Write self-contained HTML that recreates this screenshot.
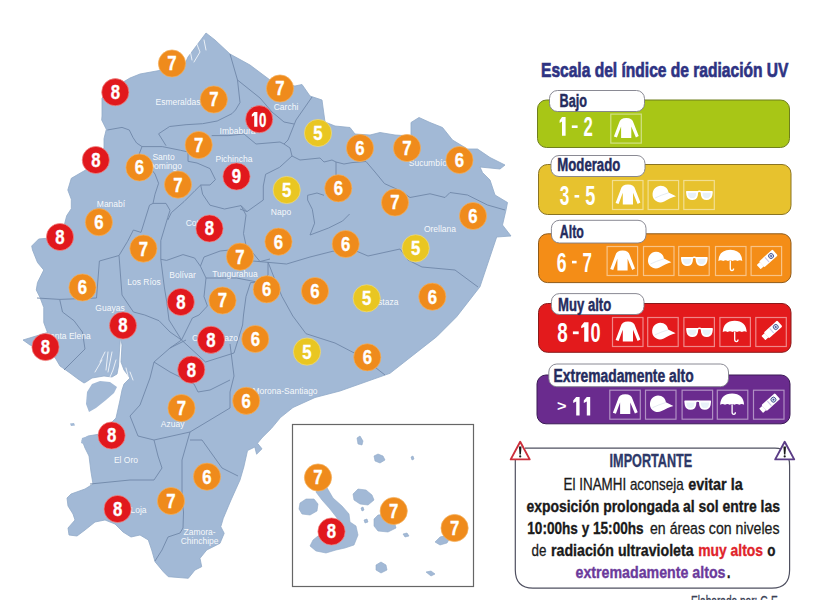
<!DOCTYPE html>
<html><head><meta charset="utf-8">
<style>
html,body{margin:0;padding:0;background:#fff;}
body{width:825px;height:600px;overflow:hidden;position:relative;font-family:"Liberation Sans",sans-serif;}
svg{position:absolute;left:0;top:0;}
svg text{font-family:"Liberation Sans",sans-serif;}
</style></head><body>
<svg width="825" height="600" viewBox="0 0 825 600">
<polygon points="206,33 215,40 230,54 250,65 270,80 282,84 295,86 302,84.5 310,96 322,100 325,122 335,126 350,127.5 355,134 370,135 380,132.5 395,135 411,136 411,122.5 419,117.5 430,122.5 442.5,127.5 452.5,140 467.5,149 477.5,149 490,157.5 505,165 500,169 480,167 482.5,172.5 490,180 495,195 507.5,202.5 506,210 502.5,225 511,236 496.7,237 480,286.7 456.7,316.7 436.7,336.7 390,373.3 340,391 315,397.5 293,407.5 280.4,417.6 271.3,428.6 262,437.8 257.5,443.3 262,448.8 256.6,454.2 254.8,447 247.5,450.6 243.8,467 240,480 231,500 223.3,518.3 220.8,526.7 224.2,533.3 220,543.3 206.7,550 200,558.3 201.7,566.7 195,570 188.3,578.3 168.3,576.7 163.3,571.7 155,561.7 151.7,550 148.3,540 140,535 131,537 123,532 115,524 105,520 95,522 85,530 77,536 69,535 68,528 75,520 73,514 68,506 67,498 71,494 85,489 93,484 91,472 89,456 85,448 82,440 88,436 100,434 116,418 120,400 122,390 124,384 130,378 124,370 121,362 122,345 120.5,337 119.5,350 118.5,366 117,374 112,377 104,376 98,377 92,378 86,382 84,383 78,379 70,373 60,366 55,357.5 45,350 30,345 23,340 47.5,332.5 43.75,322.5 43.75,307.5 40,297.5 36.25,290 37.5,282.5 43.75,270 37.5,262.5 32.5,250 31.7,246 38.7,239 50,238 64.3,225 66.7,215.7 71.3,208.7 71.3,199.3 67.8,190 71.3,178.3 85.3,170.2 95,162 104,148 104,138.7 106.3,129.3 101.7,120 102,116 102,98 110,90 120,84 130,78 140,74 184,66 188,57" fill="#a2b9d6" stroke="#90a9c8" stroke-width="0.8" stroke-linejoin="round"/>
<polygon points="87,392 92,384 100,381 110,382 117,387 114,393 106,400 96,408 89,412 86,404" fill="#a2b9d6"/>
<polygon points="70,423.5 74,423 75,425.5 71,426" fill="#a2b9d6"/>
<polygon points="82,438 88,436 92,440 86,445 81,443" fill="#a2b9d6"/>
<polygon points="86,446 92,444 95,448 89,450" fill="#a2b9d6"/>
<polyline points="100,362 105,352" fill="none" stroke="#fff" stroke-width="0.9" stroke-opacity="0.85" stroke-linecap="round"/>
<polyline points="95,372 102,360" fill="none" stroke="#fff" stroke-width="0.9" stroke-opacity="0.85" stroke-linecap="round"/>
<polyline points="108,352 106,370" fill="none" stroke="#fff" stroke-width="0.9" stroke-opacity="0.85" stroke-linecap="round"/>
<polyline points="112,352 110,362 108,372" fill="none" stroke="#fff" stroke-width="0.9" stroke-opacity="0.85" stroke-linecap="round"/>
<polyline points="116,360 113,370 110,377" fill="none" stroke="#fff" stroke-width="0.9" stroke-opacity="0.85" stroke-linecap="round"/>
<polyline points="126,368 128,376" fill="none" stroke="#fff" stroke-width="0.9" stroke-opacity="0.85" stroke-linecap="round"/>
<polyline points="130,372 133,380" fill="none" stroke="#fff" stroke-width="0.9" stroke-opacity="0.85" stroke-linecap="round"/>
<polyline points="196,42 200,52 194,62" fill="none" stroke="#fff" stroke-width="0.9" stroke-opacity="0.85" stroke-linecap="round"/>
<polyline points="204,40 206,50" fill="none" stroke="#fff" stroke-width="0.9" stroke-opacity="0.85" stroke-linecap="round"/>
<polyline points="190,50 192,60" fill="none" stroke="#fff" stroke-width="0.9" stroke-opacity="0.85" stroke-linecap="round"/>
<polyline points="230,54 237.5,80 240,102.5 235.5,110 231.9,113.7 217.2,121 202.6,123.7 186,124.7 169.6,126.5 158.6,133.8 166,145.7" fill="none" stroke="#6f87a8" stroke-width="0.9" stroke-linejoin="round"/>
<polyline points="107.3,130 122,127.4 129.3,130 133,137.5 136.6,143 142,146.6 162.3,146.6 180.6,150.3 188,152" fill="none" stroke="#6f87a8" stroke-width="0.9" stroke-linejoin="round"/>
<polyline points="237.5,80 260,98 272,112 284,122 294,124" fill="none" stroke="#6f87a8" stroke-width="0.9" stroke-linejoin="round"/>
<polyline points="312,97 296,120 288,140 284,144" fill="none" stroke="#6f87a8" stroke-width="0.9" stroke-linejoin="round"/>
<polyline points="211.7,135.6 228.2,135.6 244,134 256,144 280,142 284,144 290,148" fill="none" stroke="#6f87a8" stroke-width="0.9" stroke-linejoin="round"/>
<polyline points="290,148 292,156 279.6,167.3 265.6,174.3 263.3,186 263.3,200 247,211.6 240,209" fill="none" stroke="#6f87a8" stroke-width="0.9" stroke-linejoin="round"/>
<polyline points="292,156 300,160 320,158 324,162 332,160 336,162 344,164 352,162.6 366,161.5 375,172 384.5,183.6 400,190.6 410,197.5 430,193.75 445,197.5 450,192.5 467.5,195 487.5,205 505,210" fill="none" stroke="#6f87a8" stroke-width="0.9" stroke-linejoin="round"/>
<polyline points="336,162 336,176" fill="none" stroke="#6f87a8" stroke-width="0.9" stroke-linejoin="round"/>
<polyline points="324,195.3 317,193 307.6,195.3 307.6,200 312.3,209.3 314.6,223.2 310,235 328.6,228 342.6,221 349.6,214" fill="none" stroke="#6f87a8" stroke-width="0.9" stroke-linejoin="round"/>
<polyline points="188,152 188,161.3 197,163 210,168.6 215.4,179.6 210,185 200.7,185 195,190.6 184,201.6 171.4,212.6 167.8,220" fill="none" stroke="#6f87a8" stroke-width="0.9" stroke-linejoin="round"/>
<polyline points="200.7,185 202.6,194.2 210,205.2 224.5,209 241,205.6 247,211.6" fill="none" stroke="#6f87a8" stroke-width="0.9" stroke-linejoin="round"/>
<polyline points="142,146.6 138.5,155.8 148,165 155,174 158.6,183.3 155,194.2 153,203.4 149.5,205.2 141,232.4 133.4,230" fill="none" stroke="#6f87a8" stroke-width="0.9" stroke-linejoin="round"/>
<polyline points="153,203.4 166,203.4 170,210.3 167.8,217.3 160.8,240.6 160.8,259.3" fill="none" stroke="#6f87a8" stroke-width="0.9" stroke-linejoin="round"/>
<polyline points="160.8,259.3 166.6,260.4 183,254.6 194.6,258 200.4,266.2 204,257 220.2,251 229.6,250 250.5,250 260,261.6 270,259" fill="none" stroke="#6f87a8" stroke-width="0.9" stroke-linejoin="round"/>
<polyline points="241,205.6 246,215 243.5,233.6 246,245.3 250.5,250" fill="none" stroke="#6f87a8" stroke-width="0.9" stroke-linejoin="round"/>
<polyline points="206,278 236.6,278 260,282.6 268,275 268,262" fill="none" stroke="#6f87a8" stroke-width="0.9" stroke-linejoin="round"/>
<polyline points="200.4,266.2 206,278 204,296.6 207.4,306 199,315 192.4,318 181.5,340" fill="none" stroke="#6f87a8" stroke-width="0.9" stroke-linejoin="round"/>
<polyline points="160.8,259.3 164.3,287 166.6,301 169,320 181.5,340" fill="none" stroke="#6f87a8" stroke-width="0.9" stroke-linejoin="round"/>
<polyline points="260,282.6 250.5,282.6 246,296.6 243.5,315 242.6,325 234,353" fill="none" stroke="#6f87a8" stroke-width="0.9" stroke-linejoin="round"/>
<polyline points="247,260.5 286.6,264 310,257 333,251.2 356.6,251.2 368,256 400,249 408,260 422,267 455,270 478,287" fill="none" stroke="#6f87a8" stroke-width="0.9" stroke-linejoin="round"/>
<polyline points="268,262 275,280 282,296.5 292.8,316 306,333.7 335,343 362,357 385,375" fill="none" stroke="#6f87a8" stroke-width="0.9" stroke-linejoin="round"/>
<polyline points="181.5,340 170,348" fill="none" stroke="#6f87a8" stroke-width="0.9" stroke-linejoin="round"/>
<polyline points="181.5,340 205.5,362 234,353" fill="none" stroke="#6f87a8" stroke-width="0.9" stroke-linejoin="round"/>
<polyline points="37,298 59.7,299.4 96.5,298 99.4,261 119,255.5 127.6,241.3 133.4,230" fill="none" stroke="#6f87a8" stroke-width="0.9" stroke-linejoin="round"/>
<polyline points="59.7,299.4 62.5,312 74,320.7 82.4,332 85,349 68,366 64,370" fill="none" stroke="#6f87a8" stroke-width="0.9" stroke-linejoin="round"/>
<polyline points="119,255.5 122,295 133.4,312 144.8,315 159,320.7 170,332 181.5,340" fill="none" stroke="#6f87a8" stroke-width="0.9" stroke-linejoin="round"/>
<polyline points="186,340 170,348 154,362 150,378 140,405 130,416" fill="none" stroke="#6f87a8" stroke-width="0.9" stroke-linejoin="round"/>
<polyline points="154,362 170,372 194,384 198,392 210,390 230,380" fill="none" stroke="#6f87a8" stroke-width="0.9" stroke-linejoin="round"/>
<polyline points="230,344 234,376 230,392 230,408 210,420 190,432 154,440 138,436 130,416" fill="none" stroke="#6f87a8" stroke-width="0.9" stroke-linejoin="round"/>
<polyline points="154,440 158,456 162,468 154,480 130,480 90,484" fill="none" stroke="#6f87a8" stroke-width="0.9" stroke-linejoin="round"/>
<polyline points="190,432 182,460 182,500 183.5,512 183,528 180,533 168,537 162,550 155,561" fill="none" stroke="#6f87a8" stroke-width="0.9" stroke-linejoin="round"/>
<polyline points="190,440 202,440 222,468 238,476" fill="none" stroke="#6f87a8" stroke-width="0.9" stroke-linejoin="round"/>
<text x="178" y="105" text-anchor="middle" font-size="8.5" fill="#ffffff" fill-opacity="0.92">Esmeraldas</text>
<text x="286" y="110" text-anchor="middle" font-size="8.5" fill="#ffffff" fill-opacity="0.92">Carchi</text>
<text x="237.5" y="133.5" text-anchor="middle" font-size="8.5" fill="#ffffff" fill-opacity="0.92">Imbabura</text>
<text x="234" y="161.5" text-anchor="middle" font-size="8.5" fill="#ffffff" fill-opacity="0.92">Pichincha</text>
<text x="163.5" y="160" text-anchor="middle" font-size="8.5" fill="#ffffff" fill-opacity="0.92">Santo</text>
<text x="165" y="168.5" text-anchor="middle" font-size="8.5" fill="#ffffff" fill-opacity="0.92">Domingo</text>
<text x="430" y="165.5" text-anchor="middle" font-size="8.5" fill="#ffffff" fill-opacity="0.92">Sucumbíos</text>
<text x="281" y="214.7" text-anchor="middle" font-size="8.5" fill="#ffffff" fill-opacity="0.92">Napo</text>
<text x="440" y="232" text-anchor="middle" font-size="8.5" fill="#ffffff" fill-opacity="0.92">Orellana</text>
<text x="111" y="207" text-anchor="middle" font-size="8.5" fill="#ffffff" fill-opacity="0.92">Manabí</text>
<text x="202.5" y="225.5" text-anchor="middle" font-size="8.5" fill="#ffffff" fill-opacity="0.92">Cotopaxi</text>
<text x="235" y="276.5" text-anchor="middle" font-size="8.5" fill="#ffffff" fill-opacity="0.92">Tungurahua</text>
<text x="182.5" y="277.7" text-anchor="middle" font-size="8.5" fill="#ffffff" fill-opacity="0.92">Bolívar</text>
<text x="144" y="284.6" text-anchor="middle" font-size="8.5" fill="#ffffff" fill-opacity="0.92">Los Ríos</text>
<text x="110" y="311" text-anchor="middle" font-size="8.5" fill="#ffffff" fill-opacity="0.92">Guayas</text>
<text x="67.5" y="339" text-anchor="middle" font-size="8.5" fill="#ffffff" fill-opacity="0.92">Santa Elena</text>
<text x="215" y="341" text-anchor="middle" font-size="8.5" fill="#ffffff" fill-opacity="0.92">Chimborazo</text>
<text x="383" y="304.7" text-anchor="middle" font-size="8.5" fill="#ffffff" fill-opacity="0.92">Pastaza</text>
<text x="285" y="393.5" text-anchor="middle" font-size="8.5" fill="#ffffff" fill-opacity="0.92">Morona-Santiago</text>
<text x="172.6" y="427.4" text-anchor="middle" font-size="8.5" fill="#ffffff" fill-opacity="0.92">Azuay</text>
<text x="126" y="462.5" text-anchor="middle" font-size="8.5" fill="#ffffff" fill-opacity="0.92">El Oro</text>
<text x="138.5" y="512.7" text-anchor="middle" font-size="8.5" fill="#ffffff" fill-opacity="0.92">Loja</text>
<text x="199.6" y="534.6" text-anchor="middle" font-size="8.5" fill="#ffffff" fill-opacity="0.92">Zamora-</text>
<text x="199.6" y="543.7" text-anchor="middle" font-size="8.5" fill="#ffffff" fill-opacity="0.92">Chinchipe</text>
<rect x="292.5" y="424.5" width="181" height="162" fill="#fff" stroke="#666" stroke-width="1.2"/>
<polygon points="318,486 326,486 333,498 342,506 349,514 350,522 356,526 358,535 354,545 345,548 336,550 326,553 316,551 310,546 313,540 318,536 328,533 340,526 337,518 330,509 322,500 316,492" fill="#a2b9d6" stroke="#90a9c8" stroke-width="0.6"/>
<polygon points="300,503 306,499 314,499 318,504 317,511 310,515 302,514 299,509" fill="#a2b9d6" stroke="#90a9c8" stroke-width="0.6"/>
<polygon points="353,494 358,489 366,490 372,495 374,500 368,505 360,504 354,500" fill="#a2b9d6" stroke="#90a9c8" stroke-width="0.6"/>
<polygon points="374,519 378,515 388,514 394,520 396,528 388,532 378,531 374,526" fill="#a2b9d6" stroke="#90a9c8" stroke-width="0.6"/>
<polygon points="435,542 440,537 447,535 450,538 447,543 440,545" fill="#a2b9d6" stroke="#90a9c8" stroke-width="0.6"/>
<polygon points="357,438 360,436 363,441 362,445 358,444" fill="#a2b9d6" stroke="#90a9c8" stroke-width="0.6"/>
<polygon points="374,456 378,454 383,456 385,460 380,463 375,461" fill="#a2b9d6" stroke="#90a9c8" stroke-width="0.6"/>
<polygon points="411,457 413,456 414,459 412,460" fill="#a2b9d6" stroke="#90a9c8" stroke-width="0.6"/>
<polygon points="376,565 381,562 386,565 387,570 381,573 376,570" fill="#a2b9d6" stroke="#90a9c8" stroke-width="0.6"/>
<polygon points="426,572 431,571 435,574 431,576" fill="#a2b9d6" stroke="#90a9c8" stroke-width="0.6"/>
<polygon points="364,520 367,519 368,522 365,523" fill="#a2b9d6" stroke="#90a9c8" stroke-width="0.6"/>
<polygon points="403,534 407,533 409,536 405,537" fill="#a2b9d6" stroke="#90a9c8" stroke-width="0.6"/>
<polygon points="361,508 363,507 364,510 362,511" fill="#a2b9d6" stroke="#90a9c8" stroke-width="0.6"/>
<circle cx="172" cy="63.5" r="13.6" fill="#ef8b1c" stroke="#f4b15e" stroke-width="1" stroke-opacity="0.7"/>
<text x="172" y="70.5" text-anchor="middle" font-size="19.5" font-weight="bold" fill="#fff" stroke="#fff" stroke-width="0.35" transform="translate(172 0) scale(0.86 1) translate(-172 0)">7</text>
<circle cx="280" cy="88.5" r="13.6" fill="#ef8b1c" stroke="#f4b15e" stroke-width="1" stroke-opacity="0.7"/>
<text x="280" y="95.5" text-anchor="middle" font-size="19.5" font-weight="bold" fill="#fff" stroke="#fff" stroke-width="0.35" transform="translate(280 0) scale(0.86 1) translate(-280 0)">7</text>
<circle cx="115.3" cy="92.2" r="13.6" fill="#e1181d" stroke="#ef8a86" stroke-width="1" stroke-opacity="0.7"/>
<text x="115.3" y="99.2" text-anchor="middle" font-size="19.5" font-weight="bold" fill="#fff" stroke="#fff" stroke-width="0.35" transform="translate(115.3 0) scale(0.86 1) translate(-115.3 0)">8</text>
<circle cx="213.8" cy="99.5" r="13.6" fill="#ef8b1c" stroke="#f4b15e" stroke-width="1" stroke-opacity="0.7"/>
<text x="213.8" y="106.5" text-anchor="middle" font-size="19.5" font-weight="bold" fill="#fff" stroke="#fff" stroke-width="0.35" transform="translate(213.8 0) scale(0.86 1) translate(-213.8 0)">7</text>
<circle cx="259.2" cy="119.2" r="13.6" fill="#e1181d" stroke="#ef8a86" stroke-width="1" stroke-opacity="0.7"/>
<path d="M254.2,112.0 L257.4,112.0 L257.4,126.8 L254.2,126.8 L254.2,115.6 L251.8,116.8 L251.8,114.6 Z" fill="#fff"/>
<text x="259" y="126.8" font-size="20" font-weight="bold" fill="#fff" stroke="#fff" stroke-width="0.3" textLength="7.4" lengthAdjust="spacingAndGlyphs">0</text>
<circle cx="318" cy="133" r="13.6" fill="#e9c622" stroke="#f0dc80" stroke-width="1" stroke-opacity="0.7"/>
<text x="318" y="140.0" text-anchor="middle" font-size="19.5" font-weight="bold" fill="#fff" stroke="#fff" stroke-width="0.35" transform="translate(318 0) scale(0.86 1) translate(-318 0)">5</text>
<circle cx="360" cy="148" r="13.6" fill="#ef8b1c" stroke="#f4b15e" stroke-width="1" stroke-opacity="0.7"/>
<text x="360" y="155.0" text-anchor="middle" font-size="19.5" font-weight="bold" fill="#fff" stroke="#fff" stroke-width="0.35" transform="translate(360 0) scale(0.86 1) translate(-360 0)">6</text>
<circle cx="407" cy="148" r="13.6" fill="#ef8b1c" stroke="#f4b15e" stroke-width="1" stroke-opacity="0.7"/>
<text x="407" y="155.0" text-anchor="middle" font-size="19.5" font-weight="bold" fill="#fff" stroke="#fff" stroke-width="0.35" transform="translate(407 0) scale(0.86 1) translate(-407 0)">7</text>
<circle cx="459.5" cy="160" r="13.6" fill="#ef8b1c" stroke="#f4b15e" stroke-width="1" stroke-opacity="0.7"/>
<text x="459.5" y="167.0" text-anchor="middle" font-size="19.5" font-weight="bold" fill="#fff" stroke="#fff" stroke-width="0.35" transform="translate(459.5 0) scale(0.86 1) translate(-459.5 0)">6</text>
<circle cx="95.8" cy="160" r="13.6" fill="#e1181d" stroke="#ef8a86" stroke-width="1" stroke-opacity="0.7"/>
<text x="95.8" y="167.0" text-anchor="middle" font-size="19.5" font-weight="bold" fill="#fff" stroke="#fff" stroke-width="0.35" transform="translate(95.8 0) scale(0.86 1) translate(-95.8 0)">8</text>
<circle cx="139.5" cy="167.5" r="13.6" fill="#ef8b1c" stroke="#f4b15e" stroke-width="1" stroke-opacity="0.7"/>
<text x="139.5" y="174.5" text-anchor="middle" font-size="19.5" font-weight="bold" fill="#fff" stroke="#fff" stroke-width="0.35" transform="translate(139.5 0) scale(0.86 1) translate(-139.5 0)">6</text>
<circle cx="198.7" cy="145" r="13.6" fill="#ef8b1c" stroke="#f4b15e" stroke-width="1" stroke-opacity="0.7"/>
<text x="198.7" y="152.0" text-anchor="middle" font-size="19.5" font-weight="bold" fill="#fff" stroke="#fff" stroke-width="0.35" transform="translate(198.7 0) scale(0.86 1) translate(-198.7 0)">7</text>
<circle cx="236.5" cy="176.5" r="13.6" fill="#e1181d" stroke="#ef8a86" stroke-width="1" stroke-opacity="0.7"/>
<text x="236.5" y="183.5" text-anchor="middle" font-size="19.5" font-weight="bold" fill="#fff" stroke="#fff" stroke-width="0.35" transform="translate(236.5 0) scale(0.86 1) translate(-236.5 0)">9</text>
<circle cx="178" cy="184.6" r="13.6" fill="#ef8b1c" stroke="#f4b15e" stroke-width="1" stroke-opacity="0.7"/>
<text x="178" y="191.6" text-anchor="middle" font-size="19.5" font-weight="bold" fill="#fff" stroke="#fff" stroke-width="0.35" transform="translate(178 0) scale(0.86 1) translate(-178 0)">7</text>
<circle cx="286.7" cy="190" r="13.6" fill="#e9c622" stroke="#f0dc80" stroke-width="1" stroke-opacity="0.7"/>
<text x="286.7" y="197.0" text-anchor="middle" font-size="19.5" font-weight="bold" fill="#fff" stroke="#fff" stroke-width="0.35" transform="translate(286.7 0) scale(0.86 1) translate(-286.7 0)">5</text>
<circle cx="338.3" cy="188.3" r="13.6" fill="#ef8b1c" stroke="#f4b15e" stroke-width="1" stroke-opacity="0.7"/>
<text x="338.3" y="195.3" text-anchor="middle" font-size="19.5" font-weight="bold" fill="#fff" stroke="#fff" stroke-width="0.35" transform="translate(338.3 0) scale(0.86 1) translate(-338.3 0)">6</text>
<circle cx="395" cy="202.5" r="13.6" fill="#ef8b1c" stroke="#f4b15e" stroke-width="1" stroke-opacity="0.7"/>
<text x="395" y="209.5" text-anchor="middle" font-size="19.5" font-weight="bold" fill="#fff" stroke="#fff" stroke-width="0.35" transform="translate(395 0) scale(0.86 1) translate(-395 0)">7</text>
<circle cx="473" cy="216" r="13.6" fill="#ef8b1c" stroke="#f4b15e" stroke-width="1" stroke-opacity="0.7"/>
<text x="473" y="223.0" text-anchor="middle" font-size="19.5" font-weight="bold" fill="#fff" stroke="#fff" stroke-width="0.35" transform="translate(473 0) scale(0.86 1) translate(-473 0)">6</text>
<circle cx="98.9" cy="222.2" r="13.6" fill="#ef8b1c" stroke="#f4b15e" stroke-width="1" stroke-opacity="0.7"/>
<text x="98.9" y="229.2" text-anchor="middle" font-size="19.5" font-weight="bold" fill="#fff" stroke="#fff" stroke-width="0.35" transform="translate(98.9 0) scale(0.86 1) translate(-98.9 0)">6</text>
<circle cx="209.5" cy="228.5" r="13.6" fill="#e1181d" stroke="#ef8a86" stroke-width="1" stroke-opacity="0.7"/>
<text x="209.5" y="235.5" text-anchor="middle" font-size="19.5" font-weight="bold" fill="#fff" stroke="#fff" stroke-width="0.35" transform="translate(209.5 0) scale(0.86 1) translate(-209.5 0)">8</text>
<circle cx="60" cy="237" r="13.6" fill="#e1181d" stroke="#ef8a86" stroke-width="1" stroke-opacity="0.7"/>
<text x="60" y="244.0" text-anchor="middle" font-size="19.5" font-weight="bold" fill="#fff" stroke="#fff" stroke-width="0.35" transform="translate(60 0) scale(0.86 1) translate(-60 0)">8</text>
<circle cx="143.4" cy="248.6" r="13.6" fill="#ef8b1c" stroke="#f4b15e" stroke-width="1" stroke-opacity="0.7"/>
<text x="143.4" y="255.6" text-anchor="middle" font-size="19.5" font-weight="bold" fill="#fff" stroke="#fff" stroke-width="0.35" transform="translate(143.4 0) scale(0.86 1) translate(-143.4 0)">7</text>
<circle cx="240" cy="256.7" r="13.6" fill="#ef8b1c" stroke="#f4b15e" stroke-width="1" stroke-opacity="0.7"/>
<text x="240" y="263.7" text-anchor="middle" font-size="19.5" font-weight="bold" fill="#fff" stroke="#fff" stroke-width="0.35" transform="translate(240 0) scale(0.86 1) translate(-240 0)">7</text>
<circle cx="278.5" cy="241.7" r="13.6" fill="#ef8b1c" stroke="#f4b15e" stroke-width="1" stroke-opacity="0.7"/>
<text x="278.5" y="248.7" text-anchor="middle" font-size="19.5" font-weight="bold" fill="#fff" stroke="#fff" stroke-width="0.35" transform="translate(278.5 0) scale(0.86 1) translate(-278.5 0)">6</text>
<circle cx="345.7" cy="244" r="13.6" fill="#ef8b1c" stroke="#f4b15e" stroke-width="1" stroke-opacity="0.7"/>
<text x="345.7" y="251.0" text-anchor="middle" font-size="19.5" font-weight="bold" fill="#fff" stroke="#fff" stroke-width="0.35" transform="translate(345.7 0) scale(0.86 1) translate(-345.7 0)">6</text>
<circle cx="415.7" cy="248.3" r="13.6" fill="#e9c622" stroke="#f0dc80" stroke-width="1" stroke-opacity="0.7"/>
<text x="415.7" y="255.3" text-anchor="middle" font-size="19.5" font-weight="bold" fill="#fff" stroke="#fff" stroke-width="0.35" transform="translate(415.7 0) scale(0.86 1) translate(-415.7 0)">5</text>
<circle cx="82.5" cy="287.5" r="13.6" fill="#ef8b1c" stroke="#f4b15e" stroke-width="1" stroke-opacity="0.7"/>
<text x="82.5" y="294.5" text-anchor="middle" font-size="19.5" font-weight="bold" fill="#fff" stroke="#fff" stroke-width="0.35" transform="translate(82.5 0) scale(0.86 1) translate(-82.5 0)">6</text>
<circle cx="266.7" cy="289.3" r="13.6" fill="#ef8b1c" stroke="#f4b15e" stroke-width="1" stroke-opacity="0.7"/>
<text x="266.7" y="296.3" text-anchor="middle" font-size="19.5" font-weight="bold" fill="#fff" stroke="#fff" stroke-width="0.35" transform="translate(266.7 0) scale(0.86 1) translate(-266.7 0)">6</text>
<circle cx="315" cy="291" r="13.6" fill="#ef8b1c" stroke="#f4b15e" stroke-width="1" stroke-opacity="0.7"/>
<text x="315" y="298.0" text-anchor="middle" font-size="19.5" font-weight="bold" fill="#fff" stroke="#fff" stroke-width="0.35" transform="translate(315 0) scale(0.86 1) translate(-315 0)">6</text>
<circle cx="366.7" cy="298.3" r="13.6" fill="#e9c622" stroke="#f0dc80" stroke-width="1" stroke-opacity="0.7"/>
<text x="366.7" y="305.3" text-anchor="middle" font-size="19.5" font-weight="bold" fill="#fff" stroke="#fff" stroke-width="0.35" transform="translate(366.7 0) scale(0.86 1) translate(-366.7 0)">5</text>
<circle cx="432.3" cy="296.7" r="13.6" fill="#ef8b1c" stroke="#f4b15e" stroke-width="1" stroke-opacity="0.7"/>
<text x="432.3" y="303.7" text-anchor="middle" font-size="19.5" font-weight="bold" fill="#fff" stroke="#fff" stroke-width="0.35" transform="translate(432.3 0) scale(0.86 1) translate(-432.3 0)">6</text>
<circle cx="180.8" cy="302" r="13.6" fill="#e1181d" stroke="#ef8a86" stroke-width="1" stroke-opacity="0.7"/>
<text x="180.8" y="309.0" text-anchor="middle" font-size="19.5" font-weight="bold" fill="#fff" stroke="#fff" stroke-width="0.35" transform="translate(180.8 0) scale(0.86 1) translate(-180.8 0)">8</text>
<circle cx="222.5" cy="300.5" r="13.6" fill="#ef8b1c" stroke="#f4b15e" stroke-width="1" stroke-opacity="0.7"/>
<text x="222.5" y="307.5" text-anchor="middle" font-size="19.5" font-weight="bold" fill="#fff" stroke="#fff" stroke-width="0.35" transform="translate(222.5 0) scale(0.86 1) translate(-222.5 0)">7</text>
<circle cx="123" cy="325.5" r="13.6" fill="#e1181d" stroke="#ef8a86" stroke-width="1" stroke-opacity="0.7"/>
<text x="123" y="332.5" text-anchor="middle" font-size="19.5" font-weight="bold" fill="#fff" stroke="#fff" stroke-width="0.35" transform="translate(123 0) scale(0.86 1) translate(-123 0)">8</text>
<circle cx="45.5" cy="347" r="13.6" fill="#e1181d" stroke="#ef8a86" stroke-width="1" stroke-opacity="0.7"/>
<text x="45.5" y="354.0" text-anchor="middle" font-size="19.5" font-weight="bold" fill="#fff" stroke="#fff" stroke-width="0.35" transform="translate(45.5 0) scale(0.86 1) translate(-45.5 0)">8</text>
<circle cx="211" cy="339.8" r="13.6" fill="#e1181d" stroke="#ef8a86" stroke-width="1" stroke-opacity="0.7"/>
<text x="211" y="346.8" text-anchor="middle" font-size="19.5" font-weight="bold" fill="#fff" stroke="#fff" stroke-width="0.35" transform="translate(211 0) scale(0.86 1) translate(-211 0)">8</text>
<circle cx="255.3" cy="339" r="13.6" fill="#ef8b1c" stroke="#f4b15e" stroke-width="1" stroke-opacity="0.7"/>
<text x="255.3" y="346.0" text-anchor="middle" font-size="19.5" font-weight="bold" fill="#fff" stroke="#fff" stroke-width="0.35" transform="translate(255.3 0) scale(0.86 1) translate(-255.3 0)">6</text>
<circle cx="307" cy="351.6" r="13.6" fill="#e9c622" stroke="#f0dc80" stroke-width="1" stroke-opacity="0.7"/>
<text x="307" y="358.6" text-anchor="middle" font-size="19.5" font-weight="bold" fill="#fff" stroke="#fff" stroke-width="0.35" transform="translate(307 0) scale(0.86 1) translate(-307 0)">5</text>
<circle cx="367.3" cy="357.3" r="13.6" fill="#ef8b1c" stroke="#f4b15e" stroke-width="1" stroke-opacity="0.7"/>
<text x="367.3" y="364.3" text-anchor="middle" font-size="19.5" font-weight="bold" fill="#fff" stroke="#fff" stroke-width="0.35" transform="translate(367.3 0) scale(0.86 1) translate(-367.3 0)">6</text>
<circle cx="191.3" cy="369.7" r="13.6" fill="#e1181d" stroke="#ef8a86" stroke-width="1" stroke-opacity="0.7"/>
<text x="191.3" y="376.7" text-anchor="middle" font-size="19.5" font-weight="bold" fill="#fff" stroke="#fff" stroke-width="0.35" transform="translate(191.3 0) scale(0.86 1) translate(-191.3 0)">8</text>
<circle cx="246.2" cy="400.8" r="13.6" fill="#ef8b1c" stroke="#f4b15e" stroke-width="1" stroke-opacity="0.7"/>
<text x="246.2" y="407.8" text-anchor="middle" font-size="19.5" font-weight="bold" fill="#fff" stroke="#fff" stroke-width="0.35" transform="translate(246.2 0) scale(0.86 1) translate(-246.2 0)">6</text>
<circle cx="181.5" cy="408" r="13.6" fill="#ef8b1c" stroke="#f4b15e" stroke-width="1" stroke-opacity="0.7"/>
<text x="181.5" y="415.0" text-anchor="middle" font-size="19.5" font-weight="bold" fill="#fff" stroke="#fff" stroke-width="0.35" transform="translate(181.5 0) scale(0.86 1) translate(-181.5 0)">7</text>
<circle cx="111.6" cy="435.5" r="13.6" fill="#e1181d" stroke="#ef8a86" stroke-width="1" stroke-opacity="0.7"/>
<text x="111.6" y="442.5" text-anchor="middle" font-size="19.5" font-weight="bold" fill="#fff" stroke="#fff" stroke-width="0.35" transform="translate(111.6 0) scale(0.86 1) translate(-111.6 0)">8</text>
<circle cx="207" cy="476.7" r="13.6" fill="#ef8b1c" stroke="#f4b15e" stroke-width="1" stroke-opacity="0.7"/>
<text x="207" y="483.7" text-anchor="middle" font-size="19.5" font-weight="bold" fill="#fff" stroke="#fff" stroke-width="0.35" transform="translate(207 0) scale(0.86 1) translate(-207 0)">6</text>
<circle cx="171" cy="501" r="13.6" fill="#ef8b1c" stroke="#f4b15e" stroke-width="1" stroke-opacity="0.7"/>
<text x="171" y="508.0" text-anchor="middle" font-size="19.5" font-weight="bold" fill="#fff" stroke="#fff" stroke-width="0.35" transform="translate(171 0) scale(0.86 1) translate(-171 0)">7</text>
<circle cx="117.6" cy="509" r="13.6" fill="#e1181d" stroke="#ef8a86" stroke-width="1" stroke-opacity="0.7"/>
<text x="117.6" y="516.0" text-anchor="middle" font-size="19.5" font-weight="bold" fill="#fff" stroke="#fff" stroke-width="0.35" transform="translate(117.6 0) scale(0.86 1) translate(-117.6 0)">8</text>
<circle cx="318" cy="477.5" r="13.6" fill="#ef8b1c" stroke="#f4b15e" stroke-width="1" stroke-opacity="0.7"/>
<text x="318" y="484.5" text-anchor="middle" font-size="19.5" font-weight="bold" fill="#fff" stroke="#fff" stroke-width="0.35" transform="translate(318 0) scale(0.86 1) translate(-318 0)">7</text>
<circle cx="331.5" cy="531.5" r="13.6" fill="#e1181d" stroke="#ef8a86" stroke-width="1" stroke-opacity="0.7"/>
<text x="331.5" y="538.5" text-anchor="middle" font-size="19.5" font-weight="bold" fill="#fff" stroke="#fff" stroke-width="0.35" transform="translate(331.5 0) scale(0.86 1) translate(-331.5 0)">8</text>
<circle cx="393.7" cy="511" r="13.6" fill="#ef8b1c" stroke="#f4b15e" stroke-width="1" stroke-opacity="0.7"/>
<text x="393.7" y="518.0" text-anchor="middle" font-size="19.5" font-weight="bold" fill="#fff" stroke="#fff" stroke-width="0.35" transform="translate(393.7 0) scale(0.86 1) translate(-393.7 0)">7</text>
<circle cx="454.6" cy="528" r="13.6" fill="#ef8b1c" stroke="#f4b15e" stroke-width="1" stroke-opacity="0.7"/>
<text x="454.6" y="535.0" text-anchor="middle" font-size="19.5" font-weight="bold" fill="#fff" stroke="#fff" stroke-width="0.35" transform="translate(454.6 0) scale(0.86 1) translate(-454.6 0)">7</text>
<text x="541" y="76.9" font-size="20.5" font-weight="bold" fill="#2e3383" stroke="#2e3383" stroke-width="0.7" textLength="247.5" lengthAdjust="spacingAndGlyphs">Escala del índice de radiación UV</text>
<rect x="537.5" y="100" width="252.0" height="47.5" rx="9" fill="#a8c616" stroke="#6f7f1c" stroke-width="1"/>
<rect x="549.5" y="90.5" width="95.0" height="21.0" rx="8" fill="#fff" stroke="#7d7d88" stroke-width="0.9"/>
<text x="559.5" y="106.5" font-size="17.5" font-weight="bold" fill="#252c5e" stroke="#252c5e" stroke-width="0.45" textLength="27.5" lengthAdjust="spacingAndGlyphs">Bajo</text>
<path d="M562,116.9 L565.6,116.9 L565.6,135.8 L562,135.8 L562,121.5 L559.6,122.9 L559.6,120.5 Z" fill="#fff"/>
<rect x="571.8" y="125.4" width="5.8" height="2.6" fill="#fff"/>
<text x="583.5" y="135.8" font-size="28" font-weight="bold" fill="#fff" textLength="9.3" lengthAdjust="spacingAndGlyphs">2</text>
<g transform="translate(610.3 113.6)"><rect x="0.5" y="0.5" width="30.5" height="29" fill="none" stroke="#fff" stroke-opacity="0.48" stroke-width="1.2"/><path d="M8.8,9.2 Q9.8,4.5 16,4.5 Q22.2,4.5 23.2,9.2 L28.4,22.5 L25.6,23.9 L21,12.8 L21,24.4 L10.8,24.4 L10.8,12.8 L6.6,24 L3.6,23 Z" fill="#fff"/></g>
<rect x="538.5" y="164.5" width="252.5" height="50.0" rx="9" fill="#e7c22e" stroke="#8a7422" stroke-width="1"/>
<rect x="551" y="155.5" width="94" height="21.0" rx="8" fill="#fff" stroke="#7d7d88" stroke-width="0.9"/>
<text x="557.3" y="170.8" font-size="17.5" font-weight="bold" fill="#252c5e" stroke="#252c5e" stroke-width="0.45" textLength="63" lengthAdjust="spacingAndGlyphs">Moderado</text>
<text x="559.7" y="205.2" font-size="28" font-weight="bold" fill="#fff" textLength="9.6" lengthAdjust="spacingAndGlyphs">3</text>
<rect x="574.5" y="195" width="4.7" height="2.6" fill="#fff"/>
<text x="585.2" y="205.2" font-size="28" font-weight="bold" fill="#fff" textLength="10.1" lengthAdjust="spacingAndGlyphs">5</text>
<g transform="translate(612 180)"><rect x="0.5" y="0.5" width="30.5" height="29" fill="none" stroke="#fff" stroke-opacity="0.48" stroke-width="1.2"/><path d="M8.8,9.2 Q9.8,4.5 16,4.5 Q22.2,4.5 23.2,9.2 L28.4,22.5 L25.6,23.9 L21,12.8 L21,24.4 L10.8,24.4 L10.8,12.8 L6.6,24 L3.6,23 Z" fill="#fff"/></g>
<g transform="translate(647.6 180)"><rect x="0.5" y="0.5" width="30.5" height="29" fill="none" stroke="#fff" stroke-opacity="0.48" stroke-width="1.2"/><path d="M5,15.5 C4.6,9.2 9,5.8 13,5.8 C17.6,5.8 20.6,9 20.9,12.6 L28.4,16.2 C24,17.6 20.2,19.4 16.6,21.4 C14,22.7 11.8,22.7 9.8,21.7 C6.6,20.2 5.2,18 5,15.5 Z" fill="#fff"/><path d="M7.5,18 Q13,15.2 20.9,12.8" fill="none" stroke="#dde6ee" stroke-width="0.8"/></g>
<g transform="translate(683.3 180)"><rect x="0.5" y="0.5" width="30.5" height="29" fill="none" stroke="#fff" stroke-opacity="0.48" stroke-width="1.2"/><path d="M3.6,11.8 L14,11.8 L13.6,15.4 Q12.8,19.2 8.9,19.2 Q5,19.2 4.1,15.4 Z M18.2,11.8 L28.6,11.8 L28.1,15.4 Q27.2,19.2 23.3,19.2 Q19.4,19.2 18.6,15.4 Z" fill="#e8f1f8" stroke="#fff" stroke-width="1.8" stroke-linejoin="round"/><path d="M14,12 Q16.1,10.6 18.2,12" fill="none" stroke="#fff" stroke-width="1.4"/></g>
<rect x="538.5" y="233.8" width="252.5" height="48.80000000000001" rx="9" fill="#f48d17" stroke="#8f5a18" stroke-width="1"/>
<rect x="551.4" y="220.3" width="94.60000000000002" height="22.69999999999999" rx="8" fill="#fff" stroke="#7d7d88" stroke-width="0.9"/>
<text x="559.8" y="237.5" font-size="17.5" font-weight="bold" fill="#252c5e" stroke="#252c5e" stroke-width="0.45" textLength="24" lengthAdjust="spacingAndGlyphs">Alto</text>
<text x="556.7" y="271.8" font-size="28" font-weight="bold" fill="#fff" textLength="9.8" lengthAdjust="spacingAndGlyphs">6</text>
<rect x="572" y="260.8" width="4.6" height="2.6" fill="#fff"/>
<text x="582.4000000000001" y="271.6" font-size="28" font-weight="bold" fill="#fff" textLength="9.4" lengthAdjust="spacingAndGlyphs">7</text>
<g transform="translate(606.6 246)"><rect x="0.5" y="0.5" width="30.5" height="29" fill="none" stroke="#fff" stroke-opacity="0.48" stroke-width="1.2"/><path d="M8.8,9.2 Q9.8,4.5 16,4.5 Q22.2,4.5 23.2,9.2 L28.4,22.5 L25.6,23.9 L21,12.8 L21,24.4 L10.8,24.4 L10.8,12.8 L6.6,24 L3.6,23 Z" fill="#fff"/></g>
<g transform="translate(643 246)"><rect x="0.5" y="0.5" width="30.5" height="29" fill="none" stroke="#fff" stroke-opacity="0.48" stroke-width="1.2"/><path d="M5,15.5 C4.6,9.2 9,5.8 13,5.8 C17.6,5.8 20.6,9 20.9,12.6 L28.4,16.2 C24,17.6 20.2,19.4 16.6,21.4 C14,22.7 11.8,22.7 9.8,21.7 C6.6,20.2 5.2,18 5,15.5 Z" fill="#fff"/><path d="M7.5,18 Q13,15.2 20.9,12.8" fill="none" stroke="#dde6ee" stroke-width="0.8"/></g>
<g transform="translate(678.2 246)"><rect x="0.5" y="0.5" width="30.5" height="29" fill="none" stroke="#fff" stroke-opacity="0.48" stroke-width="1.2"/><path d="M3.6,11.8 L14,11.8 L13.6,15.4 Q12.8,19.2 8.9,19.2 Q5,19.2 4.1,15.4 Z M18.2,11.8 L28.6,11.8 L28.1,15.4 Q27.2,19.2 23.3,19.2 Q19.4,19.2 18.6,15.4 Z" fill="#e8f1f8" stroke="#fff" stroke-width="1.8" stroke-linejoin="round"/><path d="M14,12 Q16.1,10.6 18.2,12" fill="none" stroke="#fff" stroke-width="1.4"/></g>
<g transform="translate(715 246)"><rect x="0.5" y="0.5" width="30.5" height="29" fill="none" stroke="#fff" stroke-opacity="0.48" stroke-width="1.2"/><path d="M3.3,15 Q3.9,3.9 15.3,3.7 Q26.7,3.9 27.3,15 Q25,13.4 22.5,15 Q20,13.4 17.6,15 Q15.3,13.4 13,15 Q10.6,13.4 8.2,15 Q5.8,13.4 3.3,15 Z" fill="#fff"/><path d="M15.3,14.5 L15.3,22.6 Q15.3,24.6 17,24.6 Q18.6,24.6 18.6,22.6" fill="none" stroke="#fff" stroke-width="1.3"/></g>
<g transform="translate(750.6 246)"><rect x="0.5" y="0.5" width="30.5" height="29" fill="none" stroke="#fff" stroke-opacity="0.48" stroke-width="1.2"/><g transform="rotate(48 16 14)"><rect x="12" y="2.6" width="8" height="18" rx="1.2" fill="#fff"/><rect x="13.1" y="20.4" width="5.8" height="4.2" rx="0.6" fill="#fff"/><circle cx="16" cy="8" r="2.5" fill="#cfd8ee" stroke="#44548f" stroke-width="0.9"/><circle cx="16" cy="8" r="0.9" fill="#44548f"/><rect x="13" y="13" width="6" height="1" fill="#c9c2e6"/></g></g>
<rect x="538.5" y="303.5" width="252.5" height="48.80000000000001" rx="9" fill="#e31a1c" stroke="#8a1a1a" stroke-width="1"/>
<rect x="551.4" y="293.6" width="92.60000000000002" height="20.899999999999977" rx="8" fill="#fff" stroke="#7d7d88" stroke-width="0.9"/>
<text x="558" y="311" font-size="17.5" font-weight="bold" fill="#252c5e" stroke="#252c5e" stroke-width="0.45" textLength="53.2" lengthAdjust="spacingAndGlyphs">Muy alto</text>
<text x="557.3000000000001" y="342" font-size="28" font-weight="bold" fill="#fff" textLength="10.5" lengthAdjust="spacingAndGlyphs">8</text>
<rect x="572.9" y="331.4" width="5.8" height="2.8" fill="#fff"/>
<path d="M584.2,322.3 L588.5,322.3 L588.5,341.8 L584.2,341.8 L584.2,326.90000000000003 L581.2,328.3 L581.2,325.90000000000003 Z" fill="#fff"/>
<text x="590.4000000000001" y="342" font-size="28" font-weight="bold" fill="#fff" textLength="10.1" lengthAdjust="spacingAndGlyphs">0</text>
<g transform="translate(612 317)"><rect x="0.5" y="0.5" width="30.5" height="29" fill="none" stroke="#fff" stroke-opacity="0.48" stroke-width="1.2"/><path d="M8.8,9.2 Q9.8,4.5 16,4.5 Q22.2,4.5 23.2,9.2 L28.4,22.5 L25.6,23.9 L21,12.8 L21,24.4 L10.8,24.4 L10.8,12.8 L6.6,24 L3.6,23 Z" fill="#fff"/></g>
<g transform="translate(647.2 317)"><rect x="0.5" y="0.5" width="30.5" height="29" fill="none" stroke="#fff" stroke-opacity="0.48" stroke-width="1.2"/><path d="M5,15.5 C4.6,9.2 9,5.8 13,5.8 C17.6,5.8 20.6,9 20.9,12.6 L28.4,16.2 C24,17.6 20.2,19.4 16.6,21.4 C14,22.7 11.8,22.7 9.8,21.7 C6.6,20.2 5.2,18 5,15.5 Z" fill="#fff"/><path d="M7.5,18 Q13,15.2 20.9,12.8" fill="none" stroke="#dde6ee" stroke-width="0.8"/></g>
<g transform="translate(683.4 317)"><rect x="0.5" y="0.5" width="30.5" height="29" fill="none" stroke="#fff" stroke-opacity="0.48" stroke-width="1.2"/><path d="M3.6,11.8 L14,11.8 L13.6,15.4 Q12.8,19.2 8.9,19.2 Q5,19.2 4.1,15.4 Z M18.2,11.8 L28.6,11.8 L28.1,15.4 Q27.2,19.2 23.3,19.2 Q19.4,19.2 18.6,15.4 Z" fill="#e8f1f8" stroke="#fff" stroke-width="1.8" stroke-linejoin="round"/><path d="M14,12 Q16.1,10.6 18.2,12" fill="none" stroke="#fff" stroke-width="1.4"/></g>
<g transform="translate(719.4 317)"><rect x="0.5" y="0.5" width="30.5" height="29" fill="none" stroke="#fff" stroke-opacity="0.48" stroke-width="1.2"/><path d="M3.3,15 Q3.9,3.9 15.3,3.7 Q26.7,3.9 27.3,15 Q25,13.4 22.5,15 Q20,13.4 17.6,15 Q15.3,13.4 13,15 Q10.6,13.4 8.2,15 Q5.8,13.4 3.3,15 Z" fill="#fff"/><path d="M15.3,14.5 L15.3,22.6 Q15.3,24.6 17,24.6 Q18.6,24.6 18.6,22.6" fill="none" stroke="#fff" stroke-width="1.3"/></g>
<g transform="translate(755.3 317)"><rect x="0.5" y="0.5" width="30.5" height="29" fill="none" stroke="#fff" stroke-opacity="0.48" stroke-width="1.2"/><g transform="rotate(48 16 14)"><rect x="12" y="2.6" width="8" height="18" rx="1.2" fill="#fff"/><rect x="13.1" y="20.4" width="5.8" height="4.2" rx="0.6" fill="#fff"/><circle cx="16" cy="8" r="2.5" fill="#cfd8ee" stroke="#44548f" stroke-width="0.9"/><circle cx="16" cy="8" r="0.9" fill="#44548f"/><rect x="13" y="13" width="6" height="1" fill="#c9c2e6"/></g></g>
<rect x="537" y="375" width="253" height="48.80000000000001" rx="9" fill="#6a2b8e" stroke="#3a1a55" stroke-width="1"/>
<rect x="548.8" y="364" width="179.70000000000005" height="22.69999999999999" rx="8" fill="#fff" stroke="#7d7d88" stroke-width="0.9"/>
<text x="553.6" y="382.4" font-size="17.5" font-weight="bold" fill="#252c5e" stroke="#252c5e" stroke-width="0.45" textLength="140" lengthAdjust="spacingAndGlyphs">Extremadamente alto</text>
<text x="557" y="411.2" font-size="15" font-weight="bold" fill="#fff" textLength="9.5" lengthAdjust="spacingAndGlyphs">&gt;</text>
<path d="M576.2,397 L579.6,397 L579.6,415.4 L576.2,415.4 L576.2,401.6 L573.2,403.0 L573.2,400.6 Z" fill="#fff"/>
<path d="M586.8,397 L590.2,397 L590.2,415.4 L586.8,415.4 L586.8,401.6 L583.8,403.0 L583.8,400.6 Z" fill="#fff"/>
<g transform="translate(609.3 389.7)"><rect x="0.5" y="0.5" width="30.5" height="29" fill="none" stroke="#fff" stroke-opacity="0.48" stroke-width="1.2"/><path d="M8.8,9.2 Q9.8,4.5 16,4.5 Q22.2,4.5 23.2,9.2 L28.4,22.5 L25.6,23.9 L21,12.8 L21,24.4 L10.8,24.4 L10.8,12.8 L6.6,24 L3.6,23 Z" fill="#fff"/></g>
<g transform="translate(645 389.7)"><rect x="0.5" y="0.5" width="30.5" height="29" fill="none" stroke="#fff" stroke-opacity="0.48" stroke-width="1.2"/><path d="M5,15.5 C4.6,9.2 9,5.8 13,5.8 C17.6,5.8 20.6,9 20.9,12.6 L28.4,16.2 C24,17.6 20.2,19.4 16.6,21.4 C14,22.7 11.8,22.7 9.8,21.7 C6.6,20.2 5.2,18 5,15.5 Z" fill="#fff"/><path d="M7.5,18 Q13,15.2 20.9,12.8" fill="none" stroke="#dde6ee" stroke-width="0.8"/></g>
<g transform="translate(681.6 389.7)"><rect x="0.5" y="0.5" width="30.5" height="29" fill="none" stroke="#fff" stroke-opacity="0.48" stroke-width="1.2"/><path d="M3.6,11.8 L14,11.8 L13.6,15.4 Q12.8,19.2 8.9,19.2 Q5,19.2 4.1,15.4 Z M18.2,11.8 L28.6,11.8 L28.1,15.4 Q27.2,19.2 23.3,19.2 Q19.4,19.2 18.6,15.4 Z" fill="#e8f1f8" stroke="#fff" stroke-width="1.8" stroke-linejoin="round"/><path d="M14,12 Q16.1,10.6 18.2,12" fill="none" stroke="#fff" stroke-width="1.4"/></g>
<g transform="translate(716.8 389.7)"><rect x="0.5" y="0.5" width="30.5" height="29" fill="none" stroke="#fff" stroke-opacity="0.48" stroke-width="1.2"/><path d="M3.3,15 Q3.9,3.9 15.3,3.7 Q26.7,3.9 27.3,15 Q25,13.4 22.5,15 Q20,13.4 17.6,15 Q15.3,13.4 13,15 Q10.6,13.4 8.2,15 Q5.8,13.4 3.3,15 Z" fill="#fff"/><path d="M15.3,14.5 L15.3,22.6 Q15.3,24.6 17,24.6 Q18.6,24.6 18.6,22.6" fill="none" stroke="#fff" stroke-width="1.3"/></g>
<g transform="translate(753 389.7)"><rect x="0.5" y="0.5" width="30.5" height="29" fill="none" stroke="#fff" stroke-opacity="0.48" stroke-width="1.2"/><g transform="rotate(48 16 14)"><rect x="12" y="2.6" width="8" height="18" rx="1.2" fill="#fff"/><rect x="13.1" y="20.4" width="5.8" height="4.2" rx="0.6" fill="#fff"/><circle cx="16" cy="8" r="2.5" fill="#cfd8ee" stroke="#44548f" stroke-width="0.9"/><circle cx="16" cy="8" r="0.9" fill="#44548f"/><rect x="13" y="13" width="6" height="1" fill="#c9c2e6"/></g></g>
<path d="M525,448.2 L775,448.2 Q789.6,448.2 789.6,466 L789.6,570 Q789.6,588.1 772,588.1 L533,588.1 Q515.3,588.1 515.3,570 L515.3,459" fill="#fff" stroke="#4f5060" stroke-width="1.2"/>
<path d="M520.2,441.8 L529.7,459.4 L510.70000000000005,459.4 Z" fill="#fff" stroke="#cc2f3b" stroke-width="1.9" stroke-linejoin="round"/>
<path d="M518.9000000000001,446.4 L521.5,446.4 L520.9000000000001,454.4 L519.5,454.4 Z" fill="#1a1a1a"/><circle cx="520.2" cy="456.4" r="1.1" fill="#1a1a1a"/>
<path d="M784.7,441.8 L794.2,459.4 L775.2,459.4 Z" fill="#fff" stroke="#5b3d86" stroke-width="1.9" stroke-linejoin="round"/>
<path d="M783.4000000000001,446.4 L786.0,446.4 L785.4000000000001,454.4 L784.0,454.4 Z" fill="#1a1a1a"/><circle cx="784.7" cy="456.4" r="1.1" fill="#1a1a1a"/>
<text x="609.6" y="467.3" font-size="17.5" font-weight="bold" fill="#2d3868" stroke="#2d3868" stroke-width="0.35" textLength="82.6" lengthAdjust="spacingAndGlyphs">IMPORTANTE</text>
<text x="563.6" y="490.2" font-size="17" fill="#1a1a1a" stroke="#1a1a1a" stroke-width="0.3" textLength="120.0" lengthAdjust="spacingAndGlyphs">El INAMHI aconseja</text>
<text x="688.2" y="490.2" font-size="17" font-weight="bold" fill="#1a1a1a" stroke="#1a1a1a" stroke-width="0.35" textLength="54.5" lengthAdjust="spacingAndGlyphs">evitar la</text>
<text x="526.4" y="511.9" font-size="17" font-weight="bold" fill="#1a1a1a" stroke="#1a1a1a" stroke-width="0.35" textLength="253.6" lengthAdjust="spacingAndGlyphs">exposición prolongada al sol entre las</text>
<text x="527.3" y="534.1" font-size="17" font-weight="bold" fill="#1a1a1a" stroke="#1a1a1a" stroke-width="0.35" textLength="116.3" lengthAdjust="spacingAndGlyphs">10:00hs y 15:00hs</text>
<text x="650.0" y="534.1" font-size="17" fill="#1a1a1a" stroke="#1a1a1a" stroke-width="0.3" textLength="129.5" lengthAdjust="spacingAndGlyphs">en áreas con niveles</text>
<text x="531.5" y="555.9" font-size="17" fill="#1a1a1a" stroke="#1a1a1a" stroke-width="0.3" textLength="14.9" lengthAdjust="spacingAndGlyphs">de</text>
<text x="551.0" y="555.9" font-size="17" font-weight="bold" fill="#1a1a1a" stroke="#1a1a1a" stroke-width="0.35" textLength="142.6" lengthAdjust="spacingAndGlyphs">radiación ultravioleta</text>
<text x="698.2" y="555.9" font-size="17" font-weight="bold" fill="#e0232a" stroke="#e0232a" stroke-width="0.35" textLength="64.8" lengthAdjust="spacingAndGlyphs">muy altos</text>
<text x="767.3" y="555.9" font-size="17" font-weight="bold" fill="#1a1a1a" stroke="#1a1a1a" stroke-width="0.35" textLength="8.2" lengthAdjust="spacingAndGlyphs">o</text>
<text x="575.5" y="577.7" font-size="17" font-weight="bold" fill="#6b3a9b" stroke="#6b3a9b" stroke-width="0.35" textLength="150.0" lengthAdjust="spacingAndGlyphs">extremadamente altos</text>
<text x="727.0" y="577.7" font-size="17" font-weight="bold" fill="#1a1a1a" stroke="#1a1a1a" stroke-width="0.35" textLength="3.4" lengthAdjust="spacingAndGlyphs">.</text>
<text x="691" y="606" font-size="14" fill="#3a3f55" stroke="#3a3f55" stroke-width="0.3" textLength="89.5" lengthAdjust="spacingAndGlyphs">Elaborado por: G.E.</text>
</svg>
</body></html>
